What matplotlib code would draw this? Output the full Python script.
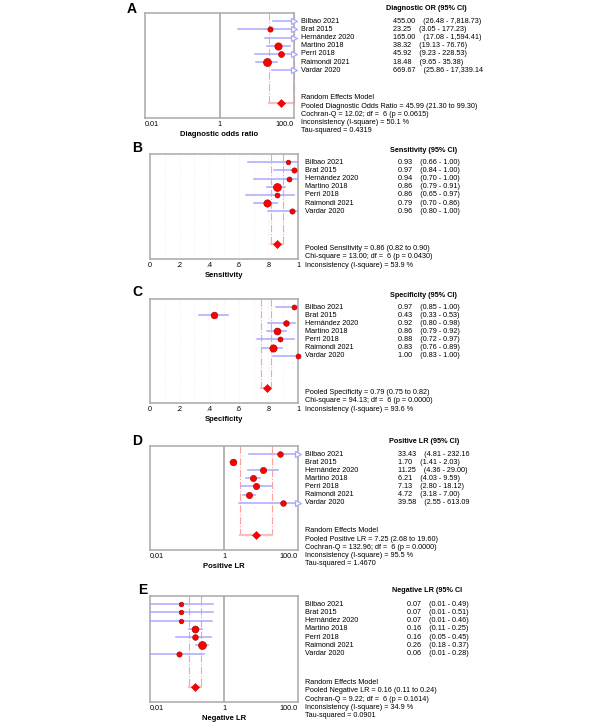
import matplotlib
matplotlib.use('Agg')
import matplotlib.pyplot as plt
import matplotlib.transforms as mtrans
import numpy as np

plt.rcParams['font.family'] = ['Liberation Sans', 'DejaVu Sans']

studies = ['Bilbao 2021', 'Brat 2015', 'Hernández 2020', 'Martino 2018',
           'Perri 2018', 'Raimondi 2021', 'Vardar 2020']

# diagnostic odds ratio
dor = [455.00, 23.25, 165.00, 38.32, 45.92, 18.48, 669.67]
dor_lo = [26.48, 3.05, 17.08, 19.13, 9.23, 9.65, 25.86]
dor_hi = [7818.73, 177.23, 1594.41, 76.76, 228.53, 35.38, 17339.14]
dor_w = [9, 11, 9, 21, 14, 25, 9]
dor_pool = [45.99, 21.30, 99.30]

# sensitivity
sens = [0.93, 0.97, 0.94, 0.86, 0.86, 0.79, 0.96]
sens_lo = [0.66, 0.84, 0.70, 0.79, 0.65, 0.70, 0.80]
sens_hi = [1.00, 1.00, 1.00, 0.91, 0.97, 0.86, 1.00]
sens_w = [8.6, 11, 10, 25, 10, 21, 11]
sens_pool = [0.86, 0.82, 0.90]

# specificity
spec = [0.97, 0.43, 0.92, 0.86, 0.88, 0.83, 1.00]
spec_lo = [0.85, 0.33, 0.80, 0.79, 0.72, 0.76, 0.83]
spec_hi = [1.00, 0.53, 0.98, 0.92, 0.97, 0.89, 1.00]
spec_w = [10, 17.5, 12.7, 19, 10, 21, 10]
spec_pool = [0.79, 0.75, 0.82]

# positive LR
plr = [33.43, 1.70, 11.25, 6.21, 7.13, 4.72, 39.58]
plr_lo = [4.81, 1.41, 4.36, 4.03, 2.80, 3.18, 2.55]
plr_hi = [232.16, 2.03, 29.00, 9.59, 18.12, 7.00, 613.09]
plr_w = [12.7, 17.5, 15.5, 15.5, 15.5, 15.5, 12.7]
plr_pool = [7.25, 2.68, 19.60]

# negative LR
nlr = [0.07, 0.07, 0.07, 0.16, 0.16, 0.26, 0.06]
nlr_lo = [0.01, 0.01, 0.01, 0.11, 0.05, 0.18, 0.01]
nlr_hi = [0.49, 0.51, 0.46, 0.25, 0.45, 0.37, 0.28]
nlr_w = [8.6, 8.6, 8.6, 19, 12.7, 25, 11]
nlr_pool = [0.16, 0.11, 0.24]

# CI columns that are cut off at the right in the original
dor_txt = ['(26.48 - 7,818.73)', '(3.05 - 177.23)', '(17.08 - 1,594.41)', '(19.13 - 76.76)',
           '(9.23 - 228.53)', '(9.65 - 35.38)', '(25.86 - 17,339.14']
plr_txt = ['(4.81 - 232.16', '(1.41 - 2.03)', '(4.36 - 29.00)', '(4.03 - 9.59)',
           '(2.80 - 18.12)', '(3.18 - 7.00)', '(2.55 - 613.09']

stats_A = ['Random Effects Model', 'Pooled Diagnostic Odds Ratio = 45.99 (21.30 to 99.30)',
           'Cochran-Q = 12.02; df =  6 (p = 0.0615)', 'Inconsistency (I-square) = 50.1 %',
           'Tau-squared = 0.4319']
stats_B = ['Pooled Sensitivity = 0.86 (0.82 to 0.90)', 'Chi-square = 13.00; df =  6 (p = 0.0430)',
           'Inconsistency (I-square) = 53.9 %']
stats_C = ['Pooled Specificity = 0.79 (0.75 to 0.82)', 'Chi-square = 94.13; df =  6 (p = 0.0000)',
           'Inconsistency (I-square) = 93.6 %']
stats_D = ['Random Effects Model', 'Pooled Positive LR = 7.25 (2.68 to 19.60)',
           'Cochran-Q = 132.96; df =  6 (p = 0.0000)', 'Inconsistency (I-square) = 95.5 %',
           'Tau-squared = 1.4670']
stats_E = ['Random Effects Model', 'Pooled Negative LR = 0.16 (0.11 to 0.24)',
           'Cochran-Q = 9.22; df =  6 (p = 0.1614)', 'Inconsistency (I-square) = 34.9 %',
           'Tau-squared = 0.0901']

W, H = 600, 723
fig = plt.figure(figsize=(W / 100, H / 100), dpi=100)

FS = 5.2
CI_COL = '#a8a8ff'
RED = '#ff0000'
POOL_COL = '#ffa0a0'


def fx(px):
    return px / W


def panel(box, letter, letter_xy, vals, lo, hi, w, pool, log, xlabel, header,
          ci_txt, stats, name_x, val_x, stats_row, header_row):
    l, r, t, b = box
    ax = fig.add_axes([fx(l), 1 - b / H, (r - l) / W, (b - t) / H])
    ax.set_ylim(11.85, -1)
    if log:
        ax.set_xscale('log')
        xmin, xmax = 0.01, 100
        ax.axvline(1, color='#a0a0a0', lw=1.1, zorder=1)
        ax.set_xticks([0.01, 1, 100])
        ax.set_xticklabels(['0.01', '1', '100.0'])
        ax.minorticks_off()
    else:
        xmin, xmax = 0, 1
        for g in np.arange(0.1, 1.0, 0.1):
            ax.axvline(g, color='#ececec', lw=0.6, ls=':', zorder=0)
        ax.set_xticks([0, .2, .4, .6, .8, 1])
        ax.set_xticklabels(['0', '.2', '.4', '.6', '.8', '1'])
    ax.set_xlim(xmin, xmax)
    ax.set_yticks([])
    ax.tick_params(axis='x', length=0, pad=2, labelsize=FS)
    if log:
        labs = ax.get_xticklabels()
        labs[0].set_ha('left')
        labs[-1].set_ha('right')
    for s in ax.spines.values():
        s.set_color('#a8a8a8')
        s.set_linewidth(1.1)
    ax.set_xlabel(xlabel, fontsize=FS + 0.3, fontweight='bold', labelpad=2)

    # pooled estimate and its CI bracket
    pv, plo, phi = pool
    ax.plot([plo, plo], [-1, 10], color=POOL_COL, lw=0.8, ls='-.', zorder=2, clip_on=False)
    ax.plot([phi, phi], [-1, 10], color=POOL_COL, lw=0.8, ls='-.', zorder=2, clip_on=False)
    ax.plot([plo, phi], [10, 10], color='#ffbcbc', lw=1.6, zorder=2)
    ax.plot([pv], [10], 'D', ms=3.6, mfc=RED, mec='#cc0000', mew=0.4, zorder=4)

    # studies
    for i in range(len(vals)):
        a = max(lo[i], xmin)
        c = min(hi[i], xmax)
        ax.plot([a, c], [i, i], color=CI_COL, lw=1.1, zorder=3, clip_on=False)
        if hi[i] > xmax:
            ax.plot([xmax], [i], marker='>', ms=4.5, mfc='white', mec=CI_COL, mew=0.9,
                    zorder=3, clip_on=False)
        if xmin <= vals[i] <= xmax:
            d = 1.6 * np.sqrt(w[i]) * 0.72
            ax.plot([vals[i]], [i], 'o', ms=d, mfc=RED, mec='#990000', mew=0.4,
                    zorder=5, clip_on=False)

    tr = mtrans.blended_transform_factory(fig.transFigure, ax.transData)
    ax.text(fx(header[1]), header_row, header[0], transform=tr, fontsize=FS,
            fontweight='bold', va='center')
    for i, nm in enumerate(studies):
        ax.text(fx(name_x), i, nm, transform=tr, fontsize=FS, va='center')
        vs = f'{vals[i]:,.2f}'
        ax.text(fx(val_x), i, vs + '    ' + ci_txt[i], transform=tr, fontsize=FS, va='center')
    for j, s in enumerate(stats):
        ax.text(fx(name_x), stats_row + j, s, transform=tr, fontsize=FS, va='center')

    fig.text(fx(letter_xy[0]), 1 - letter_xy[1] / H, letter, fontsize=10, fontweight='bold',
             ha='center', va='center')
    return ax


def ci_strings(lo, hi):
    return [f'({a:,.2f} - {b:,.2f})' for a, b in zip(lo, hi)]


panel((145, 294, 13, 118), 'A', (132, 9), dor, dor_lo, dor_hi, dor_w, dor_pool, True,
      'Diagnostic odds ratio', ('Diagnostic OR (95% CI)', 386), dor_txt, stats_A,
      301, 393, 9.4, -1.5)
panel((150, 298, 154, 259), 'B', (137, 148.5), sens, sens_lo, sens_hi, sens_w, sens_pool, False,
      'Sensitivity', ('Sensitivity (95% CI)', 390), ci_strings(sens_lo, sens_hi), stats_B,
      305, 398, 10.6, -1.45)
panel((150, 298, 299, 403), 'C', (137.5, 292.5), spec, spec_lo, spec_hi, spec_w, spec_pool, False,
      'Specificity', ('Specificity (95% CI)', 390.5), ci_strings(spec_lo, spec_hi), stats_C,
      305, 398, 10.6, -1.45)
panel((150, 298, 446, 550), 'D', (137, 441), plr, plr_lo, plr_hi, plr_w, plr_pool, True,
      'Positive LR', ('Positive LR (95% CI)', 389), plr_txt, stats_D,
      305, 398, 9.5, -1.5)
panel((150, 298, 596, 702), 'E', (142.5, 589.5), nlr, nlr_lo, nlr_hi, nlr_w, nlr_pool, True,
      'Negative LR', ('Negative LR (95% CI', 391.5), ci_strings(nlr_lo, nlr_hi), stats_E,
      305, 407, 9.5, -1.7)

fig.savefig('out.png', dpi=100)
